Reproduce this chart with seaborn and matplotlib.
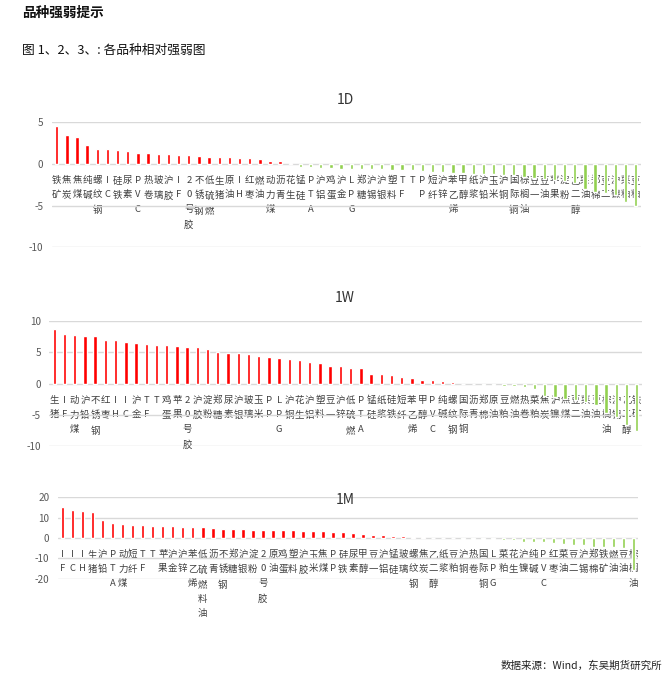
import matplotlib
matplotlib.use("Agg")
import matplotlib.pyplot as plt
import seaborn as sns
import pandas as pd

sns.set_theme(style="white")
plt.rcParams['font.family'] = ['Noto Sans CJK SC', 'DejaVu Sans']

# ---------------- data ----------------
d1_cats = ['铁矿','焦炭','焦煤','纯碱','螺纹钢','IC','硅铁','尿素','PVC','热卷','玻璃','沪胶','IF','20号胶',
           '不锈钢','低硫燃','生猪','原油','IH','红枣','燃油','动力煤','沥青','花生','锰硅','PTA','沪铝','鸡蛋',
           '沪金','LPG','郑糖','沪锡','沪银','塑料','TF','T','PP','短纤','沪锌','苯乙烯','甲醇','纸浆','沪铅',
           '玉米','沪铜','国际铜','棕榈油','豆一','豆油','苹果','淀粉','乙二醇','菜油','郑棉','豆二','沪镍','菜粕','豆粕']
d1_vals = [4.5, 3.45, 3.25, 2.25, 1.77, 1.76, 1.68, 1.55, 1.33, 1.28, 1.22, 1.2, 1.12, 1.06,
           0.94, 0.86, 0.8, 0.79, 0.73, 0.72, 0.58, 0.38, 0.3, 0.1, -0.3, -0.32, -0.48, -0.5,
           -0.55, -0.56, -0.6, -0.62, -0.64, -0.66, -0.72, -0.74, -0.84, -0.92, -0.96, -1.05, -1.1, -1.15, -1.2,
           -1.25, -1.3, -1.35, -1.6, -1.7, -1.8, -1.9, -2.0, -2.3, -3.0, -3.3, -3.5, -3.7, -4.6, -5.0]

w1_cats = ['生猪','IF','动力煤','沪铅','不锈钢','红枣','IH','IC','沪金','TF','T','鸡蛋','苹果','20号胶','沪胶',
           '淀粉','郑糖','尿素','沪银','玻璃','玉米','PP','LPG','沪铜','花生','沪铝','塑料','豆一','沪锌','低硫燃',
           'PTA','锰硅','纸浆','硅铁','短纤','苯乙烯','甲醇','PVC','纯碱','螺纹钢','国际铜','沥青','郑棉','原油',
           '豆粕','燃油','热卷','菜粕','焦炭','沪镍','焦煤','豆二','菜油','豆油','棕榈油','沪锡','乙二醇','铁矿']
w1_vals = [8.72, 7.93, 7.82, 7.66, 7.55, 7.03, 7.02, 6.65, 6.54, 6.28, 6.18, 6.17, 6.06, 5.9, 5.8,
           5.48, 5.0, 4.95, 4.84, 4.76, 4.46, 4.19, 4.09, 3.87, 3.85, 3.49, 3.23, 2.9, 2.85, 2.53,
           2.52, 1.5, 1.48, 1.34, 1.02, 0.91, 0.65, 0.59, 0.43, 0.2, 0.03, -0.05, -0.27, -0.28,
           -0.32, -0.4, -0.6, -0.9, -2.0, -2.2, -2.4, -2.6, -2.9, -3.4, -4.6, -5.3, -6.6, -7.6]

m1_cats = ['IF','IC','IH','生猪','沪铅','PTA','动力煤','短纤','TF','T','苹果','沪金','沪锌','苯乙烯','低硫燃料油',
           '沥青','不锈钢','郑糖','沪银','淀粉','20号胶','原油','鸡蛋','塑料','沪胶','玉米','焦煤','PP','硅铁','尿素',
           '甲醇','豆一','沪铝','锰硅','玻璃','螺纹钢','焦炭','乙二醇','纸浆','豆粕','沪铜','热卷','国际铜','LPG',
           '菜粕','花生','沪镍','纯碱','PVC','红枣','菜油','豆二','沪锡','郑棉','铁矿','燃油','豆油','棕榈油']
m1_vals = [15.2, 13.9, 13.4, 12.6, 9.0, 7.5, 7.0, 6.4, 6.35, 6.1, 6.05, 5.7, 5.65, 5.4, 5.2,
           4.9, 4.6, 4.55, 4.4, 4.1, 4.05, 4.0, 3.8, 3.75, 3.4, 3.35, 3.3, 3.0, 2.95, 2.5,
           1.8, 1.5, 1.45, 1.0, 0.8, 0.7, 0.5, 0.15, 0.08, 0.02, -0.3, -0.5, -0.55, -0.65,
           -0.8, -1.1, -1.8, -2.0, -2.05, -2.5, -2.8, -3.4, -3.45, -4.4, -4.5, -4.6, -4.7, -15.6]

panel_titles = ['1D', '1W', '1M']
header_title = '品种强弱提示'
fig_caption = '图 1、2、3、: 各品种相对强弱图'
source_text = '数据来源：Wind，东吴期货研究所'

RED = '#FF0000'
GREEN = '#92D050'
GRID = '#D9D9D9'
TICK = '#595959'
LABEL_SIZE = 6.8

W, H = 670, 683
fig = plt.figure(figsize=(W / 100, H / 100), dpi=100)


def px_axes(left, right, top, bottom):
    return fig.add_axes([left / W, 1 - bottom / H, (right - left) / W, (bottom - top) / H])


def draw_panel(ax, cats, vals, ylim, yticks, title, title_y):
    df = pd.DataFrame({'cat': cats, 'val': vals})
    colors = [RED if v >= 0 else GREEN for v in vals]
    sns.barplot(data=df, x='cat', y='val', hue='cat', palette=colors, legend=False,
                width=0.33, ax=ax, saturation=1)
    ax.set_ylim(*ylim)
    ax.set_xlim(-0.5, len(cats) - 0.5)
    # put the category axis at y = 0 first (this resets the ticks)
    for s in ['left', 'right', 'top']:
        ax.spines[s].set_visible(False)
    ax.spines['bottom'].set_position(('data', 0))
    ax.spines['bottom'].set_visible(False)
    ax.tick_params(axis='x', length=0, pad=8.5, labelsize=LABEL_SIZE, labelcolor='#404040')
    ax.tick_params(axis='y', length=0, pad=6, labelsize=7.2, labelcolor=TICK)
    ax.set_yticks(yticks)
    ax.set_yticklabels([str(t) for t in yticks])
    ax.set_xticks(range(len(cats)))
    ax.set_xticklabels(['\n'.join(c) for c in cats], fontsize=LABEL_SIZE, linespacing=1.8, color='#404040')
    ax.set_xlabel('')
    ax.set_ylabel('')
    ax.yaxis.grid(True, color=GRID, linewidth=1.0)
    ax.set_axisbelow(True)
    ax.patch.set_alpha(0)
    fig.text(345 / W, 1 - title_y / H, title, ha='center', va='center', fontsize=10, color='#333333')


ax1 = px_axes(51.6, 640.8, 122.3, 247.4)
draw_panel(ax1, d1_cats, d1_vals, (-10, 5), [-10, -5, 0, 5], panel_titles[0], 100)

ax2 = px_axes(49.2, 641.8, 321.0, 446.4)
draw_panel(ax2, w1_cats, w1_vals, (-10, 10), [-10, -5, 0, 5, 10], panel_titles[1], 298)

ax3 = px_axes(57.7, 638.3, 497.3, 578.7)
draw_panel(ax3, m1_cats, m1_vals, (-20, 20), [-20, -10, 0, 10, 20], panel_titles[2], 500)

fig.text(22 / W, 1 - 13 / H, header_title, ha='left', va='center', fontsize=9.8, fontweight='bold', color='#111111')
fig.text(22 / W, 1 - 50 / H, fig_caption, ha='left', va='center', fontsize=9.2, color='#111111')
fig.text(662 / W, 1 - 666 / H, source_text, ha='right', va='center', fontsize=7.6, color='#222222')

fig.savefig('out.png', dpi=100)
